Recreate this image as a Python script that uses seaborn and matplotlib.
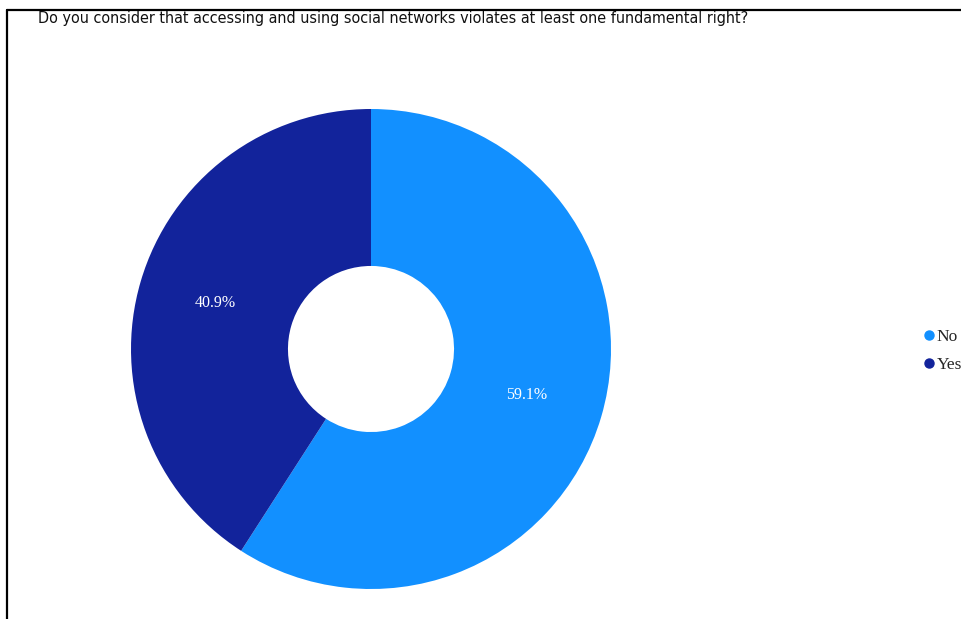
import matplotlib
matplotlib.use("Agg")
import matplotlib.pyplot as plt
from matplotlib.lines import Line2D
import seaborn as sns

title = "Do you consider that accessing and using social networks violates at least one fundamental right?"
categories = ["No", "Yes"]
shares = [59.1, 40.9]
colors = ["#1290FF", "#12239B"]

sns.set_theme(style="white")
plt.rcParams["font.family"] = ["DejaVu Sans"]

W, H = 961, 619
fig = plt.figure(figsize=(W / 100, H / 100), dpi=100)
fig.patch.set_facecolor("white")

# donut: centre (371, 349) px, outer radius 240 px
cx, cy, r = 371, 349, 240
ax = fig.add_axes([(cx - r) / W, (H - cy - r) / H, 2 * r / W, 2 * r / H])
wedges, _, autotexts = ax.pie(
    shares,
    colors=colors,
    startangle=90,
    counterclock=False,
    radius=1.0,
    autopct="%.1f%%",
    pctdistance=0.675,
    wedgeprops=dict(width=0.654, linewidth=0),
    textprops=dict(color="white", fontsize=11.5, family="Liberation Serif"),
)
ax.set_xlim(-1, 1)
ax.set_ylim(-1, 1)
ax.set_aspect("equal")
ax.axis("off")

# title
fig.text(38 / W, 1 - 19 / H, title, ha="left", va="center",
         fontsize=11.55, color="#111111", family="DejaVu Sans",
         fontstretch="condensed", fontweight="medium")

# legend
handles = [Line2D([], [], marker="o", linestyle="none", markersize=6.5,
                  markerfacecolor=c, markeredgecolor=c) for c in colors]
fig.legend(handles, categories, loc="upper left",
           bbox_to_anchor=(921 / W, 1 - 329 / H), frameon=False,
           prop=dict(family="Liberation Serif", size=12.5),
           handletextpad=0.0, handlelength=0.9, labelspacing=0.68,
           borderaxespad=0, borderpad=0)

# frame lines at the top and left
fig.add_artist(Line2D([6.5 / W, 1.0], [1 - 9.5 / H, 1 - 9.5 / H],
                      transform=fig.transFigure, color="black", linewidth=1.6))
fig.add_artist(Line2D([6.5 / W, 6.5 / W], [0, 1 - 9.5 / H],
                      transform=fig.transFigure, color="black", linewidth=1.6))

fig.savefig("out.png", dpi=100)
